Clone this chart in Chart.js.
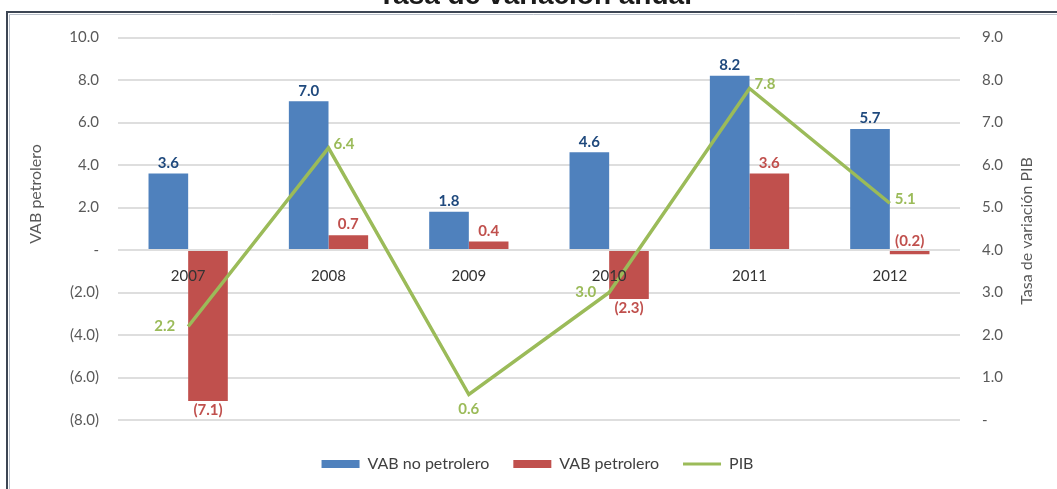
<!DOCTYPE html>
<html lang="es">
<head>
<meta charset="utf-8"/>
<title>Tasa de variación anual</title>
<script src="https://cdn.jsdelivr.net/npm/chart.js@4.4.3/dist/chart.umd.min.js"></script>
<style>
  html, body { margin: 0; padding: 0; background: #fff; }
  .chart-box { position: relative; width: 1057px; height: 489px; }
</style>
</head>
<body>
<div class="chart-box"><canvas id="pibChart" width="1057" height="489"></canvas></div>
<script>
  // data
  const years = ['2007', '2008', '2009', '2010', '2011', '2012'];
  const vabNoPetrolero = [3.6, 7.0, 1.8, 4.6, 8.2, 5.7];
  const vabPetrolero = [-7.1, 0.7, 0.4, -2.3, 3.6, -0.2];
  const pib = [2.2, 6.4, 0.6, 3.0, 7.8, 5.1];
  const pibLabelSide = ['left', 'right', 'below', 'left', 'right', 'right'];

  const BLUE = '#4F81BD', RED = '#C0504D', GREEN = '#9BBB59';
  const fmt = v => v === 0 ? '-' : (v < 0 ? '(' + Math.abs(v).toFixed(1) + ')' : v.toFixed(1));

  Chart.defaults.font.family = 'Lato, "Open Sans", sans-serif';

  // title (cut at the top edge), frame and axis titles
  const frame = {
    id: 'frame',
    beforeDraw(chart) {
      const ctx = chart.ctx;
      ctx.save();
      ctx.fillStyle = '#fff';
      ctx.fillRect(0, 0, chart.width, chart.height);
      ctx.strokeStyle = '#b9c0ca';
      ctx.lineWidth = 1;
      ctx.beginPath(); ctx.moveTo(9.5, chart.height); ctx.lineTo(9.5, 14.5); ctx.lineTo(chart.width, 14.5); ctx.stroke();
      ctx.strokeStyle = '#3d4654';
      ctx.lineWidth = 2;
      ctx.beginPath(); ctx.moveTo(7, chart.height); ctx.lineTo(7, 12); ctx.lineTo(chart.width, 12); ctx.stroke();
      ctx.fillStyle = '#1a1a1a';
      ctx.font = 'bold 28px "Liberation Sans", Arial, sans-serif';
      ctx.textAlign = 'center';
      ctx.textBaseline = 'alphabetic';
      ctx.fillText('Tasa de variación anual', 535, 4);
      ctx.restore();
    },
    afterDraw(chart) {
      const ctx = chart.ctx;
      ctx.save();
      ctx.fillStyle = '#595959';
      ctx.font = '16px Lato, sans-serif';
      ctx.textAlign = 'center';
      ctx.textBaseline = 'middle';
      ctx.translate(36, 194); ctx.rotate(-Math.PI / 2);
      ctx.fillText('VAB petrolero', 0, 0);
      ctx.setTransform(1, 0, 0, 1, 0, 0);
      ctx.translate(1027, 231); ctx.rotate(-Math.PI / 2);
      ctx.fillText('Tasa de variación PIB', 0, 0);
      ctx.restore();
    }
  };

  // value labels next to bars and line points
  const valueLabels = {
    id: 'valueLabels',
    afterDatasetsDraw(chart) {
      const ctx = chart.ctx;
      ctx.save();
      ctx.font = 'bold 15px Lato, sans-serif';
      ctx.textAlign = 'center';
      [0, 1].forEach(di => {
        const ds = chart.data.datasets[di];
        ctx.fillStyle = di === 0 ? '#1F497D' : RED;
        chart.getDatasetMeta(di).data.forEach((bar, i) => {
          const v = ds.data[i];
          if (v >= 0) {
            ctx.textBaseline = 'bottom';
            ctx.fillText(fmt(v), bar.x, bar.y - 3);
          } else if (Math.abs(bar.y - bar.base) < 12) {
            ctx.textBaseline = 'bottom';
            ctx.fillText(fmt(v), bar.x, bar.base - 2);
          } else {
            ctx.textBaseline = 'top';
            ctx.fillText(fmt(v), bar.x, bar.y + 2);
          }
        });
      });
      ctx.fillStyle = GREEN;
      ctx.textBaseline = 'middle';
      chart.getDatasetMeta(2).data.forEach((pt, i) => {
        const txt = fmt(pib[i]);
        const side = pibLabelSide[i];
        if (side === 'left') {
          ctx.textAlign = 'right';
          ctx.fillText(txt, pt.x - 13, pt.y);
        } else if (side === 'right') {
          ctx.textAlign = 'left';
          ctx.fillText(txt, pt.x + 5, pt.y - 4);
        } else {
          ctx.textAlign = 'center';
          ctx.fillText(txt, pt.x, pt.y + 15);
        }
      });
      ctx.restore();
    }
  };

  const pibChart = new Chart(document.getElementById('pibChart'), {
    type: 'bar',
    data: {
      labels: years,
      datasets: [
        {
          label: 'VAB no petrolero',
          data: vabNoPetrolero,
          backgroundColor: BLUE,
          yAxisID: 'y',
          order: 1,
          categoryPercentage: 0.565,
          barPercentage: 1,
        },
        {
          label: 'VAB petrolero',
          data: vabPetrolero,
          backgroundColor: RED,
          yAxisID: 'y',
          order: 1,
          categoryPercentage: 0.565,
          barPercentage: 1,
        },
        {
          type: 'line',
          label: 'PIB',
          data: pib,
          borderColor: GREEN,
          backgroundColor: GREEN,
          borderWidth: 3.5,
          pointRadius: 0,
          pointStyle: 'line',
          tension: 0,
          yAxisID: 'y1',
          order: 0,
        },
      ],
    },
    options: {
      responsive: false,
      animation: false,
      layout: { padding: { top: 37.5, left: 18, right: 0, bottom: 7 } },
      plugins: {
        tooltip: { enabled: false },
        legend: {
          position: 'bottom',
          title: { display: true, text: '', font: { size: 10 }, padding: 0 },
          labels: {
            usePointStyle: true,
            pointStyleWidth: 38,
            boxHeight: 8,
            padding: 24,
            color: '#404040',
            font: { size: 16 },
            sort: (a, b) => a.datasetIndex - b.datasetIndex,
            generateLabels(chart) {
              const items = Chart.defaults.plugins.legend.labels.generateLabels(chart);
              items.forEach(it => {
                if (it.datasetIndex === 2) { it.pointStyle = 'line'; it.lineWidth = 3; }
                else { it.pointStyle = 'rect'; it.lineWidth = 0; }
              });
              return items;
            },
          },
        },
      },
      scales: {
        x: {
          position: { y: 0 },
          grid: { display: false, drawTicks: false },
          border: { display: false },
          ticks: { z: 1, color: '#333333', font: { size: 15 }, padding: 17 },
          afterFit(s) { s.height = 0; },
        },
        y: {
          position: 'left',
          min: -8,
          max: 10,
          ticks: { stepSize: 2, callback: v => fmt(v), color: '#595959', font: { size: 15 }, padding: 19 },
          grid: { color: '#dedede', lineWidth: 2, drawTicks: false },
          border: { display: false },
          afterFit(s) { s.width = 100; },
        },
        y1: {
          position: 'right',
          min: 0,
          max: 9,
          ticks: { stepSize: 1, callback: v => fmt(v), color: '#595959', font: { size: 15 }, padding: 22 },
          grid: { display: false, drawTicks: false },
          border: { display: false },
          afterFit(s) { s.width = 97; },
        },
      },
    },
    plugins: [frame, valueLabels],
  });
</script>
</body>
</html>
